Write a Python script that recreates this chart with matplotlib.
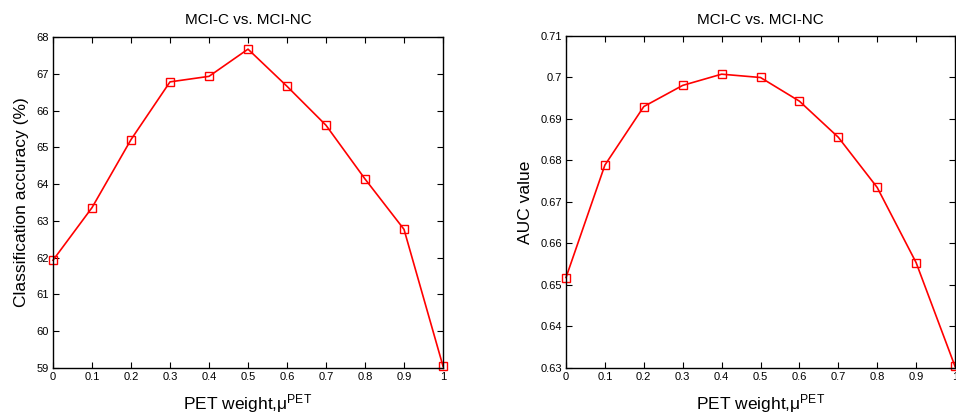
import numpy as np
import matplotlib
matplotlib.use("Agg")
import matplotlib.pyplot as plt

plt.rcParams['font.family'] = ['Liberation Sans', 'DejaVu Sans']
plt.rcParams['mathtext.fontset'] = 'custom'
plt.rcParams['mathtext.rm'] = 'Liberation Sans'
plt.rcParams['mathtext.it'] = 'Liberation Sans'

pet_weight = [0, 0.1, 0.2, 0.3, 0.4, 0.5, 0.6, 0.7, 0.8, 0.9, 1.0]
accuracy = [61.93, 63.36, 65.21, 66.78, 66.93, 67.67, 66.66, 65.60, 64.14, 62.77, 59.05]
auc = [0.6518, 0.6789, 0.6930, 0.6981, 0.7008, 0.7000, 0.6943, 0.6856, 0.6735, 0.6554, 0.6304]

x_ticks = [0, 0.1, 0.2, 0.3, 0.4, 0.5, 0.6, 0.7, 0.8, 0.9, 1]
x_labels = ['0', '0.1', '0.2', '0.3', '0.4', '0.5', '0.6', '0.7', '0.8', '0.9', '1']
acc_ticks = [59, 60, 61, 62, 63, 64, 65, 66, 67, 68]
auc_ticks = [0.63, 0.64, 0.65, 0.66, 0.67, 0.68, 0.69, 0.70, 0.71]
auc_labels = ['0.63', '0.64', '0.65', '0.66', '0.67', '0.68', '0.69', '0.7', '0.71']

fig = plt.figure(figsize=(9.56, 4.2), dpi=100)
W, H = 956, 420
ax1 = fig.add_axes([53 / W, 1 - 368 / H, 390 / W, 331 / H])
ax2 = fig.add_axes([566 / W, 1 - 368 / H, 389 / W, 332 / H])

def style(ax):
    ax.set_xlim(0, 1)
    ax.set_xticks(x_ticks)
    ax.set_xticklabels(x_labels)
    ax.tick_params(direction='in', top=True, right=True, labelsize=8,
                   length=4, width=0.8, pad=3)
    for s in ax.spines.values():
        s.set_linewidth(1.0)
    ax.set_title('MCI-C vs. MCI-NC', fontsize=11, pad=9)
    ax.set_xlabel(r'PET weight,$\mathregular{\mu^{PET}}$', fontsize=12.5, labelpad=7)

ax1.plot(pet_weight, accuracy, color='red', lw=1.2, marker='s', ms=6,
         mfc='none', mec='red', mew=1.0, clip_on=False)
style(ax1)
ax1.set_ylim(59, 68)
ax1.set_yticks(acc_ticks)
ax1.set_ylabel('Classification accuracy (%)', fontsize=12.5, labelpad=5)

ax2.plot(pet_weight, auc, color='red', lw=1.2, marker='s', ms=6,
         mfc='none', mec='red', mew=1.0, clip_on=False)
style(ax2)
ax2.set_ylim(0.63, 0.71)
ax2.set_yticks(auc_ticks)
ax2.set_yticklabels(auc_labels)
ax2.set_ylabel('AUC value', fontsize=12.5, labelpad=5)

fig.savefig('out.png', dpi=100)
